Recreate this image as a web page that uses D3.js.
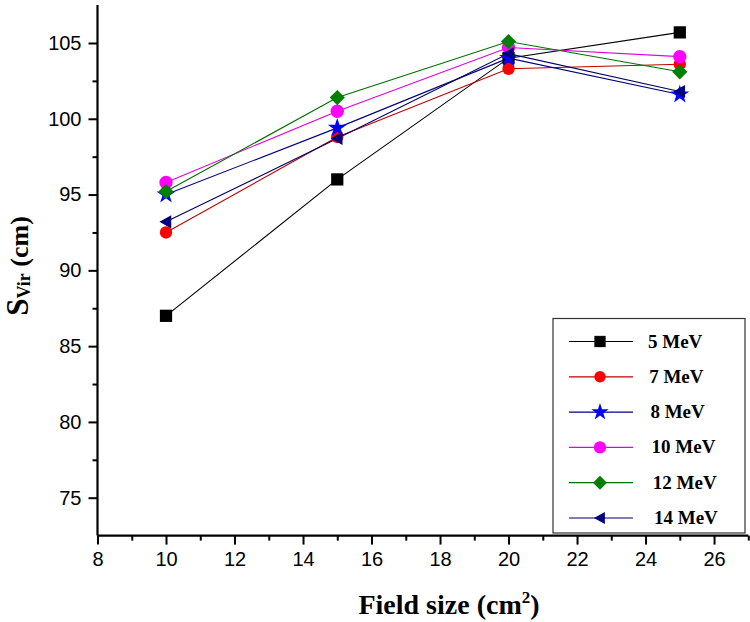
<!DOCTYPE html>
<html><head><meta charset="utf-8">
<script src="https://cdn.jsdelivr.net/npm/d3@7/dist/d3.min.js"></script>
<style>body{margin:0;background:#fff}svg{display:block}</style>
</head><body>
<svg id="c" width="750" height="622"></svg>
<script>
const fieldSizes = [10, 15, 20, 25];
const seriesNames = ["5 MeV", "7 MeV", "8 MeV", "10 MeV", "12 MeV", "14 MeV"];
const mev5  = [87.0, 96.0, 104.0, 105.7];
const mev7  = [92.5, 98.8, 103.3, 103.6];
const mev8  = [95.0, 99.4, 104.0, 101.6];
const mev10 = [95.8, 100.5, 104.7, 104.1];
const mev12 = [95.2, 101.4, 105.1, 103.1];
const mev14 = [93.2, 98.7, 104.3, 101.8];
const xTicks = [8, 10, 12, 14, 16, 18, 20, 22, 24, 26];
const yTicks = [75, 80, 85, 90, 95, 100, 105];

const styles = [
  {line:"#000000", fill:"#000000", sym:"square", size:150},
  {line:"#c00000", fill:"#ff0000", sym:"circle", size:120},
  {line:"#000080", fill:"#0000ff", sym:"star", size:110},
  {line:"#e000e0", fill:"#ff00ff", sym:"circle", size:140},
  {line:"#007000", fill:"#008000", sym:"diamond", size:150},
  {line:"#000060", fill:"#000080", sym:"triangle", size:120}
];
const allSeries = [mev5, mev7, mev8, mev10, mev12, mev14];

const svg = d3.select("#c");
const x = d3.scaleLinear().domain([8, 27]).range([97.5, 748.3]);
const y = d3.scaleLinear().domain([72.5, 107.5]).range([535.6, 5.1]);

function symPath(sym, size){
  if(sym==="square") return d3.symbol(d3.symbolSquare, size)();
  if(sym==="circle") return d3.symbol(d3.symbolCircle, size)();
  if(sym==="star") return d3.symbol(d3.symbolStar, size)();
  if(sym==="diamond"){ const r=Math.sqrt(size)*0.62; return `M0,${-r}L${r},0L0,${r}L${-r},0Z`; }
  if(sym==="triangle"){ const r=Math.sqrt(size)*0.6; return `M${-r},0L${r*0.8},${-r}L${r*0.8},${r}Z`; }
}

// lines and markers
const line = d3.line().x((d,i)=>x(fieldSizes[i])).y(d=>y(d));
allSeries.forEach((vals, k)=>{
  svg.append("path").attr("d", line(vals)).attr("fill","none")
    .attr("stroke", styles[k].line).attr("stroke-width", 1.1);
});
allSeries.forEach((vals, k)=>{
  svg.append("g").selectAll("path").data(vals).join("path")
    .attr("transform",(d,i)=>`translate(${x(fieldSizes[i])},${y(d)})`)
    .attr("d", symPath(styles[k].sym, styles[k].size))
    .attr("fill", styles[k].fill);
});

// axes
const fontTick = "'Liberation Sans', Arial, sans-serif";
const yAxis = d3.axisLeft(y).tickValues(yTicks).tickSize(9).tickPadding(7).tickFormat(d3.format("d"));
const gy = svg.append("g").attr("transform","translate(97.5,0)").call(yAxis);
const xAxis = d3.axisBottom(x).tickValues(xTicks).tickSize(9).tickPadding(7).tickFormat(d3.format("d"));
const gx = svg.append("g").attr("transform","translate(0,535.6)").call(xAxis);
// minor ticks
const yMinor = [77.5, 82.5, 87.5, 92.5, 97.5, 102.5];
svg.append("g").attr("transform","translate(97.5,0)").call(d3.axisLeft(y).tickValues(yMinor).tickSize(5).tickFormat(""))
  .call(g=>g.select(".domain").remove()).selectAll("line").attr("stroke-width",2);
const xMinor = [9, 11, 13, 15, 17, 19, 21, 23, 25, 27];
svg.append("g").attr("transform","translate(0,535.6)").call(d3.axisBottom(x).tickValues(xMinor).tickSize(5).tickFormat(""))
  .call(g=>g.select(".domain").remove()).selectAll("line").attr("stroke-width",2);
[gx, gy].forEach(g=>{
  g.select(".domain").attr("stroke-width",2.2).attr("stroke","#000");
  g.selectAll(".tick line").attr("stroke-width",2);
  g.selectAll("text").attr("font-family", fontTick).attr("font-size", 20).attr("fill","#000");
});
gy.select(".domain").attr("d", `M-0,${y(72.5)}V${y(107.5)}`);
gx.select(".domain").attr("d", `M${x(8)},0H${x(27)}`);

// axis titles
const serif = "'Liberation Serif', 'Times New Roman', serif";
const xt = svg.append("text").attr("x", 449).attr("y", 614).attr("text-anchor","middle")
  .attr("font-family", serif).attr("font-weight","bold").attr("font-size", 28).attr("fill","#000");
xt.append("tspan").text("Field size (cm");
xt.append("tspan").attr("font-size", 17).attr("dy", -11).text("2");
xt.append("tspan").attr("dy", 11).text(")");

const yt = svg.append("text").attr("transform","translate(28,266) rotate(-90)").attr("text-anchor","middle")
  .attr("font-family", serif).attr("font-weight","bold").attr("fill","#000");
yt.append("tspan").attr("font-size", 31).text("S");
yt.append("tspan").attr("font-size", 18).attr("dy", 2).text("Vir");
yt.append("tspan").attr("font-size", 26).attr("dy", -2).text(" (cm)");

// legend
const lg = svg.append("g");
lg.append("rect").attr("x", 553).attr("y", 318.5).attr("width", 192).attr("height", 214.5)
  .attr("fill","#fff").attr("stroke","#333").attr("stroke-width",1.2);
const rowY = d3.scaleLinear().domain([0,5]).range([341.5, 518]);
seriesNames.forEach((name,k)=>{
  const yy = rowY(k);
  lg.append("line").attr("x1",569).attr("x2",633).attr("y1",yy).attr("y2",yy)
    .attr("stroke", styles[k].line).attr("stroke-width",1.2);
  lg.append("path").attr("transform",`translate(600,${yy})`).attr("d", symPath(styles[k].sym, styles[k].size*0.85))
    .attr("fill", styles[k].fill);
  lg.append("text").attr("x", 648 + k*1.2).attr("y", yy+6).attr("font-family", serif).attr("font-weight","bold")
    .attr("font-size", 19).attr("fill","#000").text(name);
});
</script>
</body></html>
